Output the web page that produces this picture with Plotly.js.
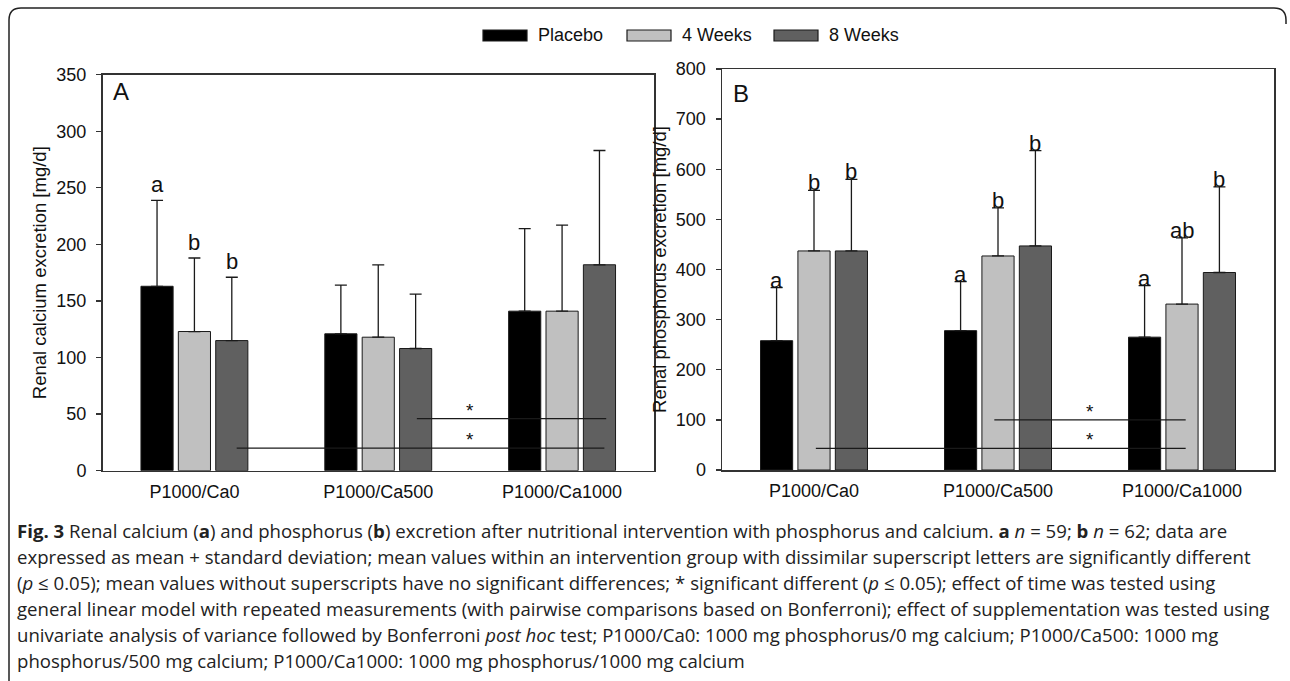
<!DOCTYPE html>
<html><head><meta charset="utf-8">
<script src="https://cdn.plot.ly/plotly-3.0.1.min.js"></script>
<style>html,body{margin:0;padding:0;background:#fff;}#chart{width:1290px;height:681px;}</style>
</head><body><div id="chart"></div>
<script>
// ---- data ----
const categories = ['P1000/Ca0', 'P1000/Ca500', 'P1000/Ca1000'];
const seriesNames = ['Placebo', '4 Weeks', '8 Weeks'];

// Panel A: renal calcium excretion [mg/d]
const caPlacebo = [163, 121, 141];
const ca4Weeks = [123, 118, 141];
const ca8Weeks = [115, 108, 182];
const caPlaceboSD = [76, 43, 73];
const ca4WeeksSD = [65, 64, 76];
const ca8WeeksSD = [56, 48, 101];
const caLettersPlacebo = ['a', '', ''];
const caLetters4Weeks = ['b', '', ''];
const caLetters8Weeks = ['b', '', ''];
const caSigY = [20, 46];
const caSigFrom = [0.23, 1.21];
const caSigTo = [2.23, 2.24];

// Panel B: renal phosphorus excretion [mg/d]
const pPlacebo = [258, 278, 265];
const p4Weeks = [437, 427, 331];
const p8Weeks = [437, 447, 394];
const pPlaceboSD = [106, 98, 103];
const p4WeeksSD = [121, 96, 132];
const p8WeeksSD = [143, 190, 171];
const pLettersPlacebo = ['a', 'a', 'a'];
const pLetters4Weeks = ['b', 'b', 'ab'];
const pLetters8Weeks = ['b', 'b', 'b'];
const pSigY = [43, 100];
const pSigFrom = [0.01, 0.98];
const pSigTo = [2.02, 2.02];

const captionLines = [
  '<b>Fig. 3</b> Renal calcium (<b>a</b>) and phosphorus (<b>b</b>) excretion after nutritional intervention with phosphorus and calcium. <b>a</b> <i>n</i> = 59; <b>b</b> <i>n</i> = 62; data are',
  'expressed as mean + standard deviation; mean values within an intervention group with dissimilar superscript letters are significantly different',
  '(<i>p</i> ≤ 0.05); mean values without superscripts have no significant differences; * significant different (<i>p</i> ≤ 0.05); effect of time was tested using',
  'general linear model with repeated measurements (with pairwise comparisons based on Bonferroni); effect of supplementation was tested using',
  'univariate analysis of variance followed by Bonferroni <i>post hoc</i> test; P1000/Ca0: 1000 mg phosphorus/0 mg calcium; P1000/Ca500: 1000 mg',
  'phosphorus/500 mg calcium; P1000/Ca1000: 1000 mg phosphorus/1000 mg calcium'
];

// ---- styling / layout ----
const W = 1290, H = 681;
const px = v => v / W;
const py = v => 1 - v / H;
const colors = ['#000000', '#c0c0c0', '#606060'];
const FONT = '"Liberation Sans", Arial, sans-serif';
const BARGAP = 0.39, GROUPGAP = 0.14;
const slot = (1 - BARGAP) / 3;

function makeTraces(vals, sds, xa, ya) {
  return vals.map((v, i) => ({
    type: 'bar', name: seriesNames[i], x: categories, y: v,
    xaxis: xa, yaxis: ya, showlegend: false,
    marker: {color: colors[i], line: {color: '#1a1a1a', width: 1}},
    error_y: {type: 'data', symmetric: false, array: sds[i], arrayminus: v.map(() => 0),
              color: '#1a1a1a', thickness: 1.3, width: 6},
    hoverinfo: 'skip'
  }));
}

const traces = [
  ...makeTraces([caPlacebo, ca4Weeks, ca8Weeks], [caPlaceboSD, ca4WeeksSD, ca8WeeksSD], 'x', 'y'),
  ...makeTraces([pPlacebo, p4Weeks, p8Weeks], [pPlaceboSD, p4WeeksSD, p8WeeksSD], 'x2', 'y2')
];

const annotations = [];
const shapes = [];

function addLetters(vals, sds, letters, xr, yr, yshift) {
  vals.forEach((v, i) => {
    v.forEach((val, c) => {
      const t = letters[i][c];
      if (!t) return;
      annotations.push({xref: xr, yref: yr, x: c + (i - 1) * slot, y: val + sds[i][c],
        text: t, showarrow: false, xanchor: 'center', yanchor: 'bottom', yshift: yshift,
        font: {family: FONT, size: 22, color: '#111'}});
    });
  });
}
addLetters([caPlacebo, ca4Weeks, ca8Weeks], [caPlaceboSD, ca4WeeksSD, ca8WeeksSD],
  [caLettersPlacebo, caLetters4Weeks, caLetters8Weeks], 'x', 'y', 1);
addLetters([pPlacebo, p4Weeks, p8Weeks], [pPlaceboSD, p4WeeksSD, p8WeeksSD],
  [pLettersPlacebo, pLetters4Weeks, pLetters8Weeks], 'x2', 'y2', -7);

function addSig(ys, from, to, xr, yr) {
  ys.forEach((y, k) => {
    shapes.push({type: 'line', xref: xr, yref: yr, x0: from[k], x1: to[k], y0: y, y1: y,
      line: {color: '#1a1a1a', width: 1.3}});
    annotations.push({xref: xr, yref: yr, x: 1.5, y: y, text: '*', showarrow: false,
      yanchor: 'bottom', yshift: -4, font: {family: FONT, size: 19, color: '#111'}});
  });
}
addSig(caSigY, caSigFrom, caSigTo, 'x', 'y');
addSig(pSigY, pSigFrom, pSigTo, 'x2', 'y2');

// panel letters
annotations.push({xref: 'paper', yref: 'paper', x: px(111), y: py(92), xanchor: 'left', yanchor: 'middle',
  text: 'A', showarrow: false, font: {family: FONT, size: 24, color: '#111'}});
annotations.push({xref: 'paper', yref: 'paper', x: px(731), y: py(94), xanchor: 'left', yanchor: 'middle',
  text: 'B', showarrow: false, font: {family: FONT, size: 24, color: '#111'}});

// custom legend
const legSw = [483, 627, 774];
seriesNames.forEach((n, i) => {
  shapes.push({type: 'rect', xref: 'paper', yref: 'paper', x0: px(legSw[i]), x1: px(legSw[i] + 44),
    y0: py(41), y1: py(30), fillcolor: colors[i], line: {color: '#1a1a1a', width: 1.2}});
  annotations.push({xref: 'paper', yref: 'paper', x: px(legSw[i] + 53), y: py(35.5), xanchor: 'left',
    yanchor: 'middle', text: n, showarrow: false, font: {family: FONT, size: 18, color: '#111'}});
});

// caption
captionLines.forEach((t, k) => {
  annotations.push({xref: 'paper', yref: 'paper', x: px(15), y: py(530 + 26 * k), xanchor: 'left',
    yanchor: 'middle', text: t, showarrow: false, align: 'left',
    font: {family: '"Open Sans", "Noto Sans", sans-serif', size: 18.6, color: '#222'}});
});

// outer frame (rounded top)
const L = 9, T = 8, R = 1286, r = 12;
const framePath = `M ${px(L)},${py(H + 5)} L ${px(L)},${py(T + r)} Q ${px(L)},${py(T)} ${px(L + r)},${py(T)} ` +
  `L ${px(R - r)},${py(T)} Q ${px(R)},${py(T)} ${px(R)},${py(T + r)} L ${px(R)},${py(T + 16)}`;
shapes.push({type: 'path', xref: 'paper', yref: 'paper', path: framePath, line: {color: '#222', width: 1.5}});

function xAxis(dom, anchor) {
  return {domain: dom, anchor: anchor, type: 'category', categoryarray: categories, range: [-0.5, 2.5],
    showline: true, mirror: true, linecolor: '#333', linewidth: 1.5, ticks: '', showgrid: false,
    zeroline: false, tickfont: {family: FONT, size: 18, color: '#111'}, ticklabelstandoff: 4, fixedrange: true};
}
function yAxis(dom, anchor, range, dtick, title, standoff) {
  return {domain: dom, anchor: anchor, range: range, dtick: dtick, tick0: 0,
    showline: true, mirror: true, linecolor: '#333', linewidth: 1.5, ticks: 'outside', ticklen: 5,
    tickwidth: 1.3, tickcolor: '#333', showgrid: false, zeroline: false,
    tickfont: {family: FONT, size: 18, color: '#111'}, ticklabelstandoff: 6,
    title: {text: title, font: {family: FONT, size: 18.5, color: '#111'}, standoff: standoff}, fixedrange: true};
}

const layout = {
  width: W, height: H, margin: {l: 0, r: 0, t: 0, b: 0},
  paper_bgcolor: '#fff', plot_bgcolor: '#fff',
  barmode: 'group', bargap: BARGAP, bargroupgap: GROUPGAP, showlegend: false,
  xaxis: xAxis([px(102.5), px(654)], 'y'),
  yaxis: yAxis([1 - 470.7 / H, 1 - 74.7 / H], 'x', [0, 350], 50, 'Renal calcium excretion [mg/d]', 5),
  xaxis2: xAxis([px(722), px(1274)], 'y2'),
  yaxis2: yAxis([1 - 470 / H, 1 - 69 / H], 'x2', [0, 800], 100, 'Renal phosphorus excretion [mg/d]', 4),
  annotations: annotations, shapes: shapes
};

Plotly.newPlot('chart', traces, layout, {displayModeBar: false, staticPlot: true});
</script></body></html>
